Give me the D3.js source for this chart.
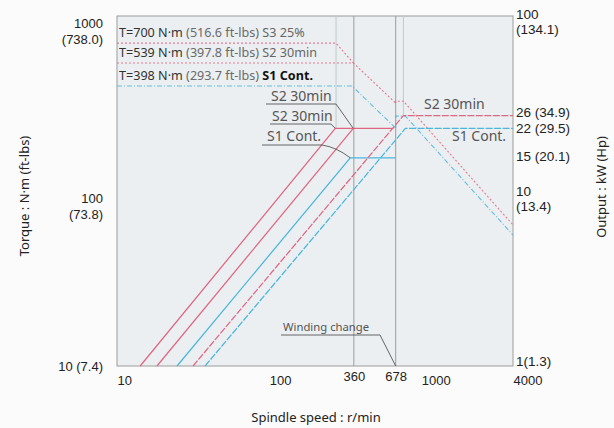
<!DOCTYPE html>
<html>
<head>
<meta charset="utf-8">
<script src="https://cdn.jsdelivr.net/npm/d3@7"></script>
<style>
  html, body { margin: 0; padding: 0; background: #fbfbfb; }
  svg { display: block; font-family: "Noto Sans", "Open Sans", sans-serif; }
</style>
</head>
<body>
<div id="chart"></div>
<script>
// speed ticks (r/min)
const speedTicks = [10, 100, 360, 678, 1000, 4000];
// torque ticks: N·m, label lines
const torqueTicks = [
  [1000, '1000', '(738.0)'],
  [100, '100', '(73.8)'],
  [10, '10 (7.4)']
];
// power ticks: kW, label lines (Hp)
const powerTicks = [
  [100, '100', '(134.1)'],
  [26, '26 (34.9)'],
  [22, '22 (29.5)'],
  [15, '15 (20.1)'],
  [10, '10', '(13.4)'],
  [1, '1(1.3)']
];

// output curves [r/min, kW]
const lowS3Power = [[14.2, 1], [272, 22], [655, 22]];
const lowS2Power = [[18.3, 1], [357, 22]];
const lowS1Power = [[24.8, 1], [341, 15], [678, 15]];
const highS2Power = [[31.6, 1], [762, 26], [4000, 26]];
const highS1Power = [[37.9, 1], [785, 22], [4000, 22]];

// torque curves [r/min, N·m]
const lowS3Torque = [[10, 700], [275, 700], [357, 539]];
const lowS2Torque = [[10, 539], [357, 539], [678, 318]];
const lowS1Torque = [[10, 398], [350, 398], [678, 229]];
const highS2Torque = [[678, 318], [678, 326], [762, 326], [4000, 64]];
const highS1Torque = [[678, 229], [678, 268], [785, 268], [4000, 56]];

const torqueLabels = [
  [700, 'T=700 N·m', '(516.6 ft-lbs)', 'S3 25%'],
  [539, 'T=539 N·m', '(397.8 ft-lbs)', 'S2 30min'],
  [398, 'T=398 N·m', '(293.7 ft-lbs)', 'S1 Cont.']
];

const RED = '#de6784';
const BLUE = '#4ab6de';
const FRAME = '#9c9c9c';

const W = 614, H = 428;
const L = 117, R = 513, T = 16, B = 366;

const x = d3.scaleLog().domain([10, 4000]).range([L, R]);
const yT = d3.scaleLog().domain([10, 1000]).range([B, T]);
const yP = d3.scaleLog().domain([1, 100]).range([B, 12]);

const svg = d3.select('#chart').append('svg')
  .attr('width', W)
  .attr('height', H);

// plot area
svg.append('rect')
  .attr('x', L).attr('y', T)
  .attr('width', R - L).attr('height', B - T)
  .attr('fill', '#eceff1')
  .attr('stroke', FRAME)
  .attr('stroke-width', 1);

// guide lines at corners
const guides = [[275, yP(22)], [762, yP(26)]];
svg.selectAll('.guide').data(guides).enter().append('line')
  .attr('x1', d => x(d[0])).attr('x2', d => x(d[0]))
  .attr('y1', T).attr('y2', d => d[1])
  .attr('stroke', '#c3c8cc').attr('stroke-width', 1);

// 360 and 678 r/min lines
svg.selectAll('.vline').data([360, 678]).enter().append('line')
  .attr('x1', d => x(d)).attr('x2', d => x(d))
  .attr('y1', T).attr('y2', B)
  .attr('stroke', FRAME).attr('stroke-width', 1);

const lineT = d3.line().x(d => x(d[0])).y(d => yT(d[1]));
const lineP = d3.line().x(d => x(d[0])).y(d => yP(d[1]));

const torqueCurves = [
  {data: lowS3Torque, color: RED, dash: '2,2'},
  {data: lowS2Torque, color: RED, dash: '2,2'},
  {data: lowS1Torque, color: BLUE, dash: '5,2,1,2'},
  {data: highS2Torque, color: RED, dash: '2,2'},
  {data: highS1Torque, color: BLUE, dash: '5,2,1,2'}
];
svg.selectAll('.torque').data(torqueCurves).enter().append('path')
  .attr('d', d => lineT(d.data))
  .attr('fill', 'none')
  .attr('stroke', d => d.color)
  .attr('stroke-width', 1.1)
  .attr('stroke-dasharray', d => d.dash)
  .attr('opacity', 0.85);

const powerCurves = [
  {data: lowS3Power, color: RED, dash: null},
  {data: lowS2Power, color: RED, dash: null},
  {data: lowS1Power, color: BLUE, dash: null},
  {data: highS2Power, color: RED, dash: '7,1.5'},
  {data: highS1Power, color: BLUE, dash: '7,1.5'}
];
svg.selectAll('.power').data(powerCurves).enter().append('path')
  .attr('d', d => lineP(d.data))
  .attr('fill', 'none')
  .attr('stroke', d => d.color)
  .attr('stroke-width', 1.25)
  .attr('stroke-dasharray', d => d.dash);

// torque row labels
const rows = svg.selectAll('.trow').data(torqueLabels).enter().append('text')
  .attr('x', L + 2)
  .attr('y', d => yT(d[0]) - 6)
  .attr('font-size', 12.6)
  .attr('fill', '#333');
rows.append('tspan').text(d => d[1]);
rows.append('tspan').attr('fill', '#6a6a6a').text(d => ' ' + d[2]);
rows.append('tspan')
  .attr('fill', (d, i) => i === 2 ? '#111' : '#666')
  .attr('font-weight', (d, i) => i === 2 ? 'bold' : null)
  .text(d => ' ' + d[3]);

// mid leader labels
const leader = svg.append('g').attr('fill', 'none').attr('stroke', '#555').attr('stroke-width', 0.9);
leader.append('path').attr('d', `M266,104 L336,104 L${x(357)},${yP(22)}`);
leader.append('path').attr('d', `M270,124 L331,124 L${x(272)},${yP(22)}`);
leader.append('path').attr('d', `M262,145 L322,145 Q336,147 ${x(341)},${yP(15)}`);
leader.append('path').attr('d', `M281,335 L380,335 L${x(678)},${B}`);

const midLabels = [
  [271, 101, 'S2 30min'],
  [272, 121, 'S2 30min'],
  [267, 141, 'S1 Cont.']
];
svg.selectAll('.mid').data(midLabels).enter().append('text')
  .attr('x', d => d[0]).attr('y', d => d[1])
  .attr('font-size', 14).attr('fill', '#555')
  .text(d => d[2]);

svg.append('text')
  .attr('x', 424).attr('y', yP(26) - 7)
  .attr('font-size', 14).attr('fill', '#555')
  .text('S2 30min');
svg.append('text')
  .attr('x', 452).attr('y', yP(22) + 13)
  .attr('font-size', 14).attr('fill', '#555')
  .text('S1 Cont.');

svg.append('text')
  .attr('x', 283).attr('y', 331)
  .attr('font-size', 11.3).attr('fill', '#555')
  .text('Winding change');

// x axis
const xAxis = svg.append('g')
  .attr('transform', `translate(0,${B + 7})`)
  .call(d3.axisBottom(x).tickValues(speedTicks).tickSize(0).tickFormat(d3.format('d')));
xAxis.select('.domain').remove();
xAxis.selectAll('.tick text')
  .attr('font-family', null)
  .attr('font-size', 13)
  .attr('fill', '#222')
  .attr('y', d => (d === 360 || d === 678) ? -1 : 3)
  .attr('text-anchor', d => (d === 360 || d === 678) ? 'middle' : 'start');

// left axis
const yAxisL = svg.append('g')
  .attr('transform', `translate(${L - 14},0)`)
  .call(d3.axisLeft(yT).tickValues(torqueTicks.map(d => d[0])).tickSize(0));
yAxisL.select('.domain').remove();
yAxisL.selectAll('.tick text').each(function(d) {
  const t = torqueTicks.find(k => k[0] === d);
  const sel = d3.select(this).text(null)
    .attr('font-family', null).attr('font-size', 13).attr('fill', '#222')
    .attr('x', 0).attr('dy', null);
  if (t.length === 3) {
    sel.attr('y', 11);
    sel.append('tspan').attr('x', 0).text(t[1]);
    sel.append('tspan').attr('x', 0).attr('dy', 16).text(t[2]);
  } else {
    sel.attr('y', 4).text(t[1]);
  }
});

// right axis
const nudge = {26: -3, 22: 0, 15: -1, 1: -5};
const yAxisR = svg.append('g')
  .attr('transform', `translate(${R + 1},0)`)
  .call(d3.axisRight(yP).tickValues(powerTicks.map(d => d[0])).tickSize(0));
yAxisR.select('.domain').remove();
yAxisR.selectAll('.tick text').each(function(d) {
  const t = powerTicks.find(k => k[0] === d);
  const sel = d3.select(this).text(null)
    .attr('font-family', null).attr('font-size', 13.5).attr('fill', '#222')
    .attr('x', 2).attr('dy', null);
  if (t.length === 3) {
    sel.attr('y', 6);
    sel.append('tspan').attr('x', 2).text(t[1]);
    sel.append('tspan').attr('x', 2).attr('dy', 15).text(t[2]);
  } else {
    sel.attr('y', 4 + (nudge[d] || 0)).text(t[1]);
  }
});

// axis titles
svg.append('text')
  .attr('x', 316).attr('y', 422)
  .attr('text-anchor', 'middle')
  .attr('font-size', 13).attr('fill', '#222')
  .text('Spindle speed : r/min');
svg.append('text')
  .attr('transform', 'translate(29,196) rotate(-90)')
  .attr('text-anchor', 'middle')
  .attr('font-size', 13).attr('fill', '#222')
  .text('Torque : N·m (ft-lbs)');
svg.append('text')
  .attr('transform', 'translate(606,187) rotate(-90)')
  .attr('text-anchor', 'middle')
  .attr('font-size', 13).attr('fill', '#222')
  .text('Output : kW (Hp)');
</script>
</body>
</html>
